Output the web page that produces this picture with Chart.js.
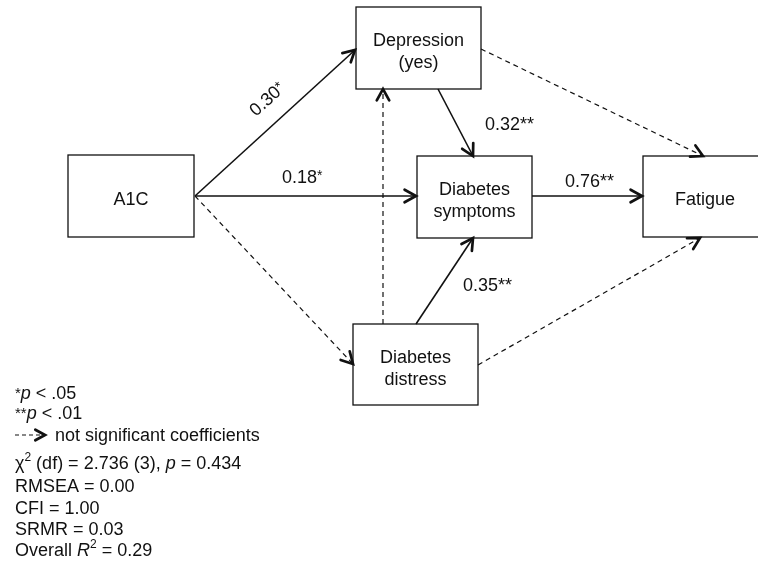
<!DOCTYPE html>
<html>
<head>
<meta charset="utf-8">
<title>Path model</title>
<script src="https://cdn.jsdelivr.net/npm/chart.js@4.4.0/dist/chart.umd.min.js"></script>
<style>
  body { margin: 0; background: #fff; }
  .wrap { width: 758px; height: 564px; position: relative; }
</style>
</head>
<body>
<div class="wrap"><canvas id="path"></canvas></div>
<script>
// nodes of the path model (diagram units = px of the picture)
var nodeNames = ['A1C', 'Depression\n(yes)', 'Diabetes\nsymptoms', 'Fatigue', 'Diabetes\ndistress'];
var nodeX = [131, 418.5, 474.5, 705, 415.5];
var nodeY = [196, 48, 197, 196.5, 364.5];
var nodeW = [126, 125, 115, 124, 125];
var nodeH = [82, 82, 82, 81, 81];

// paths: from / to node, coefficient, significant or not
var edgeFrom = [0, 0, 0, 1, 4, 4, 2, 1, 4];
var edgeTo   = [1, 2, 4, 2, 2, 1, 3, 3, 3];
var edgeCoef = ['0.30', '0.18', '', '0.32', '0.35', '', '0.76', '', ''];
var edgeStars = ['*', '*', '', '**', '**', '', '**', '', ''];
var edgeSig  = [true, true, false, true, true, false, true, false, false];
var edgeStart = [[195, 196], [195, 196], [195, 196], [438, 89], [416, 324], [383, 324], [532, 196], [481, 49], [478, 365]];
var edgeEnd   = [[355, 50], [416, 196], [353, 364], [473, 156], [473, 238], [383, 89], [642, 196], [703, 156], [700, 238]];
var coefAt    = [[267, 99], [282, 183], null, [485, 130], [463, 291], null, [565, 187], null, null];

// model fit
var chiSq = '2.736', chiDf = '3', chiP = '0.434';
var fitNames = ['RMSEA', 'CFI', 'SRMR'];
var fitValues = ['0.00', '1.00', '0.03'];
var overallR2 = '0.29';

var FAM = '"Liberation Sans", Arial, Helvetica, sans-serif';
var REG = '18px ' + FAM, ITA = 'italic 18px ' + FAM, SMALL = '15px ' + FAM, STAR = '14px ' + FAM, SUP = '12px ' + FAM;
var INK = '#111';

var datasets = edgeFrom.map(function (f, i) {
  return {
    label: nodeNames[f] + ' -> ' + nodeNames[edgeTo[i]],
    data: [{ x: edgeStart[i][0], y: edgeStart[i][1] }, { x: edgeEnd[i][0], y: edgeEnd[i][1] }],
    showLine: true,
    borderColor: INK,
    borderWidth: edgeSig[i] ? 1.6 : 1.2,
    borderDash: edgeSig[i] ? [] : [5, 4],
    pointRadius: 0,
    fill: false
  };
});

function runs(ctx, x, y, list) {
  list.forEach(function (r) {
    ctx.font = r[1];
    ctx.fillText(r[0], x, y - (r[2] || 0));
    x += ctx.measureText(r[0]).width;
  });
  return x;
}

function chevron(ctx, tx, ty, ang, len, w) {
  ctx.save();
  ctx.setLineDash([]);
  ctx.lineWidth = w;
  ctx.lineCap = 'round';
  ctx.lineJoin = 'miter';
  ctx.beginPath();
  ctx.moveTo(tx - len * Math.cos(ang - 0.5), ty - len * Math.sin(ang - 0.5));
  ctx.lineTo(tx, ty);
  ctx.lineTo(tx - len * Math.cos(ang + 0.5), ty - len * Math.sin(ang + 0.5));
  ctx.stroke();
  ctx.restore();
}

var diagram = {
  id: 'diagram',
  afterDatasetsDraw: function (chart) {
    var ctx = chart.ctx, xs = chart.scales.x, ys = chart.scales.y;
    ctx.save();
    ctx.strokeStyle = INK;
    ctx.fillStyle = INK;

    // boxes
    nodeNames.forEach(function (name, i) {
      var l = xs.getPixelForValue(nodeX[i] - nodeW[i] / 2);
      var r = xs.getPixelForValue(nodeX[i] + nodeW[i] / 2);
      var t = ys.getPixelForValue(nodeY[i] - nodeH[i] / 2);
      var b = ys.getPixelForValue(nodeY[i] + nodeH[i] / 2);
      ctx.lineWidth = 1.3;
      ctx.strokeRect(l, t, r - l, b - t);
      var lines = name.split('\n');
      var cx = xs.getPixelForValue(nodeX[i]), cy = ys.getPixelForValue(nodeY[i]);
      ctx.font = REG;
      ctx.textAlign = 'center';
      ctx.textBaseline = 'alphabetic';
      if (lines.length === 1) {
        ctx.fillText(lines[0], cx, cy + 8.5);
      } else {
        ctx.fillText(lines[0], cx, cy - 2);
        ctx.fillText(lines[1], cx, cy + 20);
      }
    });

    // arrow heads
    chart.data.datasets.forEach(function (ds, i) {
      var pts = chart.getDatasetMeta(i).data;
      var a = pts[0], b = pts[1];
      chevron(ctx, b.x, b.y, Math.atan2(b.y - a.y, b.x - a.x), 13, 2.7);
    });

    // coefficients
    ctx.textAlign = 'left';
    edgeCoef.forEach(function (c, i) {
      if (!c) return;
      var px = xs.getPixelForValue(coefAt[i][0]), py = ys.getPixelForValue(coefAt[i][1]);
      var single = edgeStars[i] === '*';
      var starRun = [edgeStars[i], single ? STAR : REG, single ? 3 : 0];
      if (i === 0) {
        var pts = chart.getDatasetMeta(i).data;
        var ang = Math.atan2(pts[1].y - pts[0].y, pts[1].x - pts[0].x);
        ctx.save();
        ctx.translate(px, py);
        ctx.rotate(ang);
        ctx.font = REG;
        var w = ctx.measureText(c).width;
        ctx.font = STAR;
        w += ctx.measureText(edgeStars[i]).width;
        runs(ctx, -w / 2, 6, [[c, REG], starRun]);
        ctx.restore();
      } else {
        runs(ctx, px, py, [[c, REG], starRun]);
      }
    });

    // notes and fit
    var lx = 15;
    runs(ctx, lx, 399, [['*', SMALL, 1], ['p', ITA], [' < .05', REG]]);
    runs(ctx, lx, 419, [['**', SMALL, 1], ['p', ITA], [' < .01', REG]]);
    ctx.lineWidth = 1.2;
    ctx.setLineDash([4, 3]);
    ctx.beginPath();
    ctx.moveTo(lx, 435);
    ctx.lineTo(lx + 26, 435);
    ctx.stroke();
    ctx.setLineDash([]);
    chevron(ctx, lx + 30, 435, 0, 11, 2.8);
    runs(ctx, lx + 35, 441, [[' not significant coefficients', REG]]);
    runs(ctx, lx, 469, [['\u03c7', REG], ['2', SUP, 8], [' (df) = ' + chiSq + ' (' + chiDf + '), ', REG], ['p', ITA], [' = ' + chiP, REG]]);
    fitNames.forEach(function (n, i) {
      runs(ctx, lx, 492 + i * 21.5, [[n + ' = ' + fitValues[i], REG]]);
    });
    runs(ctx, lx, 556, [['Overall ', REG], ['R', ITA], ['2', SUP, 8], [' = ' + overallR2, REG]]);
    ctx.restore();
  }
};

new Chart(document.getElementById('path'), {
  type: 'scatter',
  data: { datasets: datasets },
  options: {
    responsive: true,
    maintainAspectRatio: false,
    animation: false,
    events: [],
    layout: { padding: 0 },
    plugins: { legend: { display: false }, tooltip: { enabled: false } },
    scales: {
      x: { type: 'linear', min: 0, max: 758, display: false },
      y: { type: 'linear', min: 0, max: 564, reverse: true, display: false }
    }
  },
  plugins: [diagram]
});
</script>
</body>
</html>
